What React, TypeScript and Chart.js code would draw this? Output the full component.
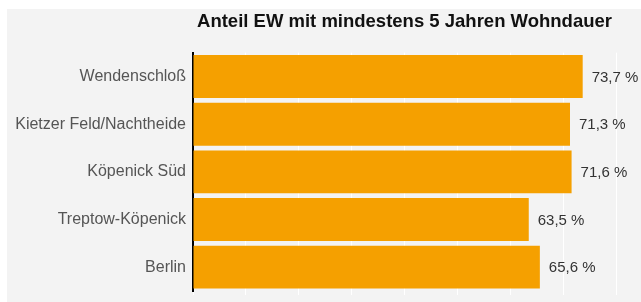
import React, { useEffect, useRef } from "react";
import { Chart, registerables } from "chart.js";

Chart.register(...registerables);

const categories = [
  "Wendenschloß",
  "Kietzer Feld/Nachtheide",
  "Köpenick Süd",
  "Treptow-Köpenick",
  "Berlin",
];
const values = [73.7, 71.3, 71.6, 63.5, 65.6];
const titleText = "Anteil EW mit mindestens 5 Jahren Wohndauer";
const formatValue = (v: number) => v.toFixed(1).replace(".", ",") + " %";

const valueLabels = {
  id: "valueLabels",
  afterDatasetsDraw(chart: any) {
    const ctx = chart.ctx;
    const meta = chart.getDatasetMeta(0);
    ctx.save();
    ctx.font = "15px 'Liberation Sans', Arial, sans-serif";
    ctx.fillStyle = "#333333";
    ctx.textAlign = "left";
    ctx.textBaseline = "middle";
    meta.data.forEach((bar: any, i: number) => {
      ctx.fillText(formatValue(values[i]), bar.x + 9, bar.y + 1);
    });
    ctx.restore();
  },
};

export default function App() {
  const ref = useRef<HTMLCanvasElement | null>(null);
  useEffect(() => {
    if (!ref.current) return;
    const chart = new Chart(ref.current, {
      type: "bar",
      data: {
        labels: categories,
        datasets: [
          {
            data: values,
            backgroundColor: "rgb(245,160,0)",
            borderWidth: 0,
            barPercentage: 0.9,
            categoryPercentage: 1,
          },
        ],
      },
      options: {
        indexAxis: "y",
        animation: false,
        responsive: false,
        maintainAspectRatio: false,
        layout: { padding: { left: 0, right: 25, top: 0, bottom: 0 } },
        plugins: {
          legend: { display: false },
          tooltip: { enabled: false },
          title: {
            display: true,
            text: titleText,
            fullSize: false,
            color: "#111111",
            font: { family: "'Liberation Sans', Arial, sans-serif", size: 18.5, weight: "bold" },
            padding: { top: 2, bottom: 19.5 },
          },
        },
        scales: {
          x: {
            min: 0,
            max: 80,
            ticks: { display: false, stepSize: 10 },
            grid: { color: "#ffffff", lineWidth: 1, drawTicks: true, tickLength: 4 },
            border: { display: false },
            afterFit: (s: any) => {
              s.height = 11;
            },
          },
          y: {
            ticks: {
              color: "#555555",
              padding: 7,
              font: { family: "'Liberation Sans', Arial, sans-serif", size: 16 },
            },
            grid: { display: false, drawTicks: false },
            border: { display: true, color: "#000000", width: 2 },
            afterFit: (s: any) => {
              s.width = 186;
              s.paddingTop = 0;
              s.paddingBottom = 0;
            },
          },
        },
      },
      plugins: [valueLabels],
    });
    return () => chart.destroy();
  }, []);
  return (
    <div
      style={{
        position: "fixed",
        left: 7,
        top: 9,
        width: 634,
        height: 293,
        background: "#f3f3f3",
      }}
    >
      <canvas ref={ref} width={634} height={293} style={{ display: "block" }} />
    </div>
  );
}
